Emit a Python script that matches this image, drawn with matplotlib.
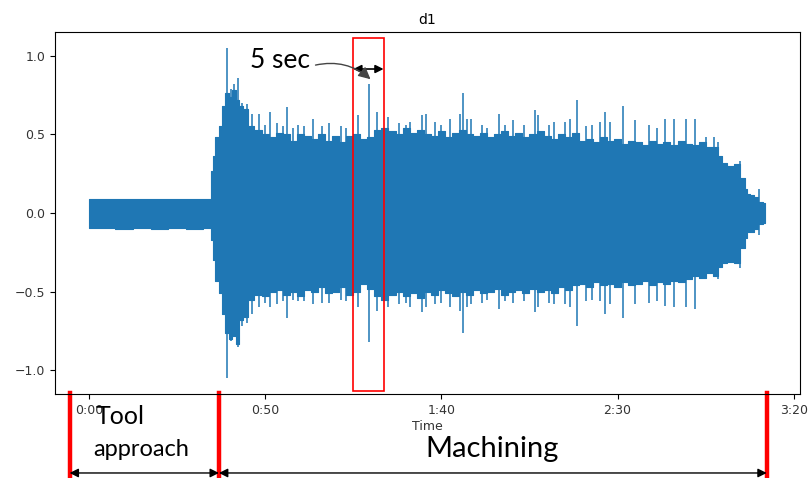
import matplotlib
matplotlib.use("Agg")
import matplotlib.pyplot as plt
import matplotlib.transforms as mtransforms
from matplotlib.patches import Rectangle
from matplotlib.ticker import FuncFormatter

# envelope of the waveform body (seconds, upper, lower)
env_t = [0, 5, 10, 15, 20, 25, 30, 34.6, 34.8, 35.4, 36.4, 37.3, 38.3, 39.2, 40.2,
         41.2, 42.2, 43.2, 44.5, 45.9, 48, 50, 52, 54, 56, 58, 60, 62, 64, 66, 68,
         70, 72, 74, 76, 78, 80, 82, 84, 86, 88, 90, 92, 94, 96, 98, 100, 102, 104,
         106, 108, 110, 112, 114, 116, 118, 120, 122, 124, 126, 128, 130, 132, 134,
         136, 138, 140, 142, 144, 146, 148, 150, 152, 154, 156, 158, 160, 162, 164,
         166, 168, 170, 172, 174, 176, 178, 179, 180, 182, 184, 185.7, 186.5, 187.1,
         188, 189.5, 190.4, 191.9]
env_up = [0.090, 0.092, 0.088, 0.090, 0.087, 0.089, 0.088, 0.089, 0.27, 0.36, 0.48,
          0.55, 0.68, 0.76, 0.74, 0.78, 0.72, 0.68, 0.66, 0.55, 0.53, 0.50, 0.48,
          0.51, 0.50, 0.46, 0.50, 0.49, 0.47, 0.50, 0.46, 0.49, 0.45, 0.49, 0.50,
          0.47, 0.48, 0.53, 0.54, 0.52, 0.50, 0.54, 0.51, 0.53, 0.50, 0.49, 0.52,
          0.48, 0.51, 0.53, 0.50, 0.49, 0.51, 0.48, 0.50, 0.52, 0.49, 0.51, 0.48,
          0.50, 0.52, 0.49, 0.47, 0.50, 0.48, 0.51, 0.46, 0.47, 0.45, 0.48, 0.46,
          0.47, 0.44, 0.46, 0.45, 0.43, 0.46, 0.44, 0.45, 0.43, 0.46, 0.44, 0.43,
          0.45, 0.42, 0.42, 0.36, 0.32, 0.30, 0.31, 0.22, 0.15, 0.12, 0.115, 0.10,
          0.07, 0.065]
env_lo = [-0.095, -0.098, -0.100, -0.096, -0.100, -0.097, -0.099, -0.098, -0.17,
          -0.30, -0.43, -0.51, -0.64, -0.76, -0.80, -0.78, -0.83, -0.68, -0.66,
          -0.55, -0.52, -0.53, -0.50, -0.49, -0.52, -0.50, -0.53, -0.49, -0.50,
          -0.47, -0.51, -0.50, -0.47, -0.52, -0.50, -0.45, -0.48, -0.53, -0.55,
          -0.52, -0.50, -0.53, -0.51, -0.54, -0.50, -0.52, -0.49, -0.51, -0.53,
          -0.50, -0.52, -0.49, -0.51, -0.50, -0.48, -0.52, -0.50, -0.49, -0.51,
          -0.48, -0.50, -0.49, -0.51, -0.47, -0.49, -0.46, -0.45, -0.47, -0.44,
          -0.46, -0.45, -0.47, -0.44, -0.46, -0.45, -0.43, -0.46, -0.44, -0.45,
          -0.43, -0.44, -0.42, -0.40, -0.41, -0.38, -0.40, -0.34, -0.32, -0.31,
          -0.32, -0.22, -0.16, -0.12, -0.12, -0.10, -0.07, -0.065]

# individual peaks sticking out of the body
spike_t = [39.2, 40.2, 41.1, 42.2, 43.5, 44.9, 46.3, 48.2, 50.0, 51.5, 53.5, 55.0,
           56.1, 58.0, 59.4, 61.0, 63.6, 66.0, 68.0, 71.5, 73.0, 76.4, 79.6, 81.8,
           84.9, 88.0, 90.0, 91.0, 94.5, 95.7, 98.3, 100.0, 102.4, 105.4, 106.1,
           107.3, 108.4, 111.5, 113.0, 116.3, 118.0, 120.3, 123.5, 126.6, 127.3,
           130.5, 132.0, 135.2, 136.6, 138.5, 141.0, 142.7, 144.9, 146.3, 147.7,
           151.5, 155.0, 158.8, 161.2, 163.3, 166.1, 169.5, 172.0, 175.1, 177.2,
           178.6, 184.8, 190.0]
spike_up = [1.046, 0.79, 0.82, 0.86, 0.70, 0.69, 0.63, 0.63, 0.56, 0.64, 0.57, 0.55,
            0.675, 0.54, 0.56, 0.55, 0.60, 0.55, 0.57, 0.55, 0.54, 0.62, 0.82, 0.64,
            0.61, 0.57, 0.56, 0.58, 0.62, 0.63, 0.58, 0.56, 0.60, 0.63, 0.76, 0.60,
            0.60, 0.56, 0.54, 0.63, 0.56, 0.59, 0.56, 0.655, 0.62, 0.56, 0.58, 0.58,
            0.60, 0.72, 0.55, 0.56, 0.58, 0.64, 0.58, 0.68, 0.59, 0.56, 0.54, 0.60,
            0.60, 0.60, 0.60, 0.485, 0.485, 0.45, 0.33, 0.15]
spike_lo = [-1.05, -0.81, -0.78, -0.85, -0.72, -0.70, -0.64, -0.60, -0.57, -0.60,
            -0.58, -0.56, -0.67, -0.55, -0.56, -0.56, -0.58, -0.57, -0.57, -0.55,
            -0.56, -0.60, -0.82, -0.62, -0.60, -0.58, -0.57, -0.60, -0.63, -0.60,
            -0.58, -0.57, -0.60, -0.62, -0.76, -0.60, -0.58, -0.57, -0.55, -0.61,
            -0.56, -0.57, -0.56, -0.63, -0.60, -0.57, -0.58, -0.58, -0.60, -0.72,
            -0.56, -0.55, -0.56, -0.64, -0.58, -0.67, -0.58, -0.57, -0.56, -0.59,
            -0.60, -0.60, -0.61, -0.40, -0.40, -0.42, -0.35, -0.14]

blue = '#1f77b4'
big_font = ['Lato', 'DejaVu Sans']

fig = plt.figure(figsize=(8.08, 4.78), dpi=100)
ax = fig.add_axes([0.0681, 0.1757, 0.9214, 0.7573])

ax.fill_between(env_t, env_lo, env_up, step='mid', color=blue, linewidth=0.8, edgecolor=blue)
ax.vlines(spike_t, spike_lo, spike_up, color=blue, linewidth=1.3, alpha=0.85)

ax.set_xlim(-9.6, 201.6)
ax.set_ylim(-1.15, 1.15)
ax.set_xticks([0, 50, 100, 150, 200])
ax.xaxis.set_major_formatter(FuncFormatter(lambda s, p: f"{int(s // 60)}:{int(s % 60):02d}"))
ax.set_yticks([-1.0, -0.5, 0.0, 0.5, 1.0])
ax.tick_params(labelsize=9, labelcolor='#333333')
ax.set_title('d1', fontsize=10)
ax.set_xlabel('Time', fontsize=9, labelpad=2, color='#333333')

# red box marking the 5 s window
ax.add_patch(Rectangle((74.85, -1.129), 8.95, 2.239, fill=False, edgecolor='red', lw=1.2))
ax.annotate('', xy=(83.6, 0.915), xytext=(75.0, 0.915),
            arrowprops=dict(arrowstyle='<|-|>', color='black', lw=1.2,
                            mutation_scale=12, shrinkA=0, shrinkB=0))
ax.text(45.8, 0.97, '5 sec', fontsize=19, family=big_font, ha='left', va='center')
ax.annotate('', xy=(79.9, 0.85), xytext=(64.3, 0.94),
            arrowprops=dict(arrowstyle='-|>', color='#444444', lw=1.0,
                            mutation_scale=18, shrinkA=0, shrinkB=0,
                            connectionstyle='arc3,rad=-0.25'))

# phase markers below the axis
blend = mtransforms.blended_transform_factory(ax.transData, fig.transFigure)
for xm in [-5.47, 36.9, 192.3]:
    ax.plot([xm, xm], [0.0, 0.177], transform=blend, clip_on=False, color='red', lw=3.2)
for x0, x1 in [(-5.47, 36.9), (36.9, 192.3)]:
    ax.annotate('', xy=(x1, 0.0105), xytext=(x0, 0.0105), xycoords=blend, textcoords=blend,
                annotation_clip=False,
                arrowprops=dict(arrowstyle='<|-|>', color='black', lw=1.0,
                                mutation_scale=13, shrinkA=0, shrinkB=0))
ax.text(1.9, 0.128, 'Tool', transform=blend, fontsize=18, family=big_font, va='center')
ax.text(1.3, 0.0586, 'approach', transform=blend, fontsize=17, family=big_font, va='center')
ax.text(95.6, 0.060, 'Machining', transform=blend, fontsize=21, family=big_font, va='center')

fig.savefig('out.png', dpi=100)
